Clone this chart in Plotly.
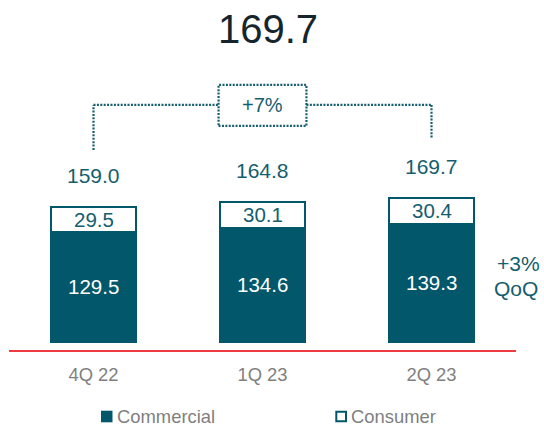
import plotly.graph_objects as go

# Loan balances by quarter (bn)
quarters = ["4Q 22", "1Q 23", "2Q 23"]
commercial = [129.5, 134.6, 139.3]
consumer = [29.5, 30.1, 30.4]
totals = [159.0, 164.8, 169.7]
headline = "169.7"
change_label = "+7%"
qoq_label = ["+3%", "QoQ"]
legend_names = ["Commercial", "Consumer"]

TEAL = "#02576a"
TEXT_TEAL = "#155e6e"
GRAY = "#7f7f7f"
RED = "#ee3b3f"
FONT = "Arial, Liberation Sans, sans-serif"

W, H = 544, 426
M_L, M_R, M_T, M_B = 9, 28, 10, 76
PLOT_W = W - M_L - M_R
PLOT_H = H - M_T - M_B


def px_x(p):
    return (p - M_L) / PLOT_W


def px_y(p):
    return (H - M_B - p) / PLOT_H


fig = go.Figure()
fig.add_trace(go.Bar(
    x=quarters, y=commercial, name=legend_names[0], width=0.5,
    marker=dict(color=TEAL, line=dict(color=TEAL, width=2)),
    showlegend=False, hoverinfo="skip",
))
fig.add_trace(go.Bar(
    x=quarters, y=consumer, name=legend_names[1], width=0.5,
    marker=dict(color="white", line=dict(color=TEAL, width=2)),
    showlegend=False, hoverinfo="skip",
))

ann = []
# segment labels
for q, c, s in zip(quarters, commercial, consumer):
    ann.append(dict(x=q, y=c / 2, text=f"{c:.1f}", showarrow=False,
                    font=dict(size=20.5, color="white", family=FONT),
                    xanchor="center", yanchor="middle"))
    ann.append(dict(x=q, y=c + s / 2, text=f"{s:.1f}", showarrow=False,
                    font=dict(size=20.5, color=TEXT_TEAL, family=FONT),
                    xanchor="center", yanchor="middle"))
# totals above bars
for q, t in zip(quarters, totals):
    ann.append(dict(x=q, y=t, text=f"{t:.1f}", showarrow=False, yshift=31.5,
                    font=dict(size=21, color=TEXT_TEAL, family=FONT),
                    xanchor="center", yanchor="middle"))

# growth bracket between first and last quarter
BR_Y = 279.5
BOX_HALF_W = 0.26
BOX_TOP, BOX_BOT = 303.1, 254.7
left_end = 226.4
right_end = 240.6
dot = dict(color=TEXT_TEAL, width=2.2, dash="2px,1.4px")
shapes = [
    dict(type="line", xref="x", yref="y", x0=0, x1=0, y0=left_end, y1=BR_Y, line=dot),
    dict(type="line", xref="x", yref="y", x0=0, x1=1 - BOX_HALF_W, y0=BR_Y, y1=BR_Y, line=dot),
    dict(type="rect", xref="x", yref="y", x0=1 - BOX_HALF_W, x1=1 + BOX_HALF_W,
         y0=BOX_BOT, y1=BOX_TOP, line=dot),
    dict(type="line", xref="x", yref="y", x0=1 + BOX_HALF_W, x1=2, y0=BR_Y, y1=BR_Y, line=dot),
    dict(type="line", xref="x", yref="y", x0=2, x1=2, y0=BR_Y, y1=right_end, line=dot),
]
ann.append(dict(x=1, y=BR_Y, text=change_label, showarrow=False,
                font=dict(size=20, color=TEXT_TEAL, family=FONT),
                xanchor="center", yanchor="middle"))

# headline figure
ann.append(dict(xref="paper", yref="paper", x=px_x(268), y=px_y(29), text=headline,
                showarrow=False, font=dict(size=40, color="#16252c", family=FONT),
                xanchor="center", yanchor="middle"))

# quarter-on-quarter note
ann.append(dict(xref="paper", yref="paper", x=px_x(518.5), y=px_y(263), text=qoq_label[0],
                showarrow=False, font=dict(size=21, color=TEXT_TEAL, family=FONT),
                xanchor="center", yanchor="middle"))
ann.append(dict(xref="paper", yref="paper", x=px_x(516), y=px_y(288), text=qoq_label[1],
                showarrow=False, font=dict(size=21, color=TEXT_TEAL, family=FONT),
                xanchor="center", yanchor="middle"))

# legend drawn as swatches + labels
LEG_Y = 416.5
shapes.append(dict(type="rect", xref="paper", yref="paper",
                   x0=px_x(101), x1=px_x(112.5), y0=px_y(LEG_Y + 5.8), y1=px_y(LEG_Y - 5.8),
                   fillcolor=TEAL, line=dict(width=0)))
shapes.append(dict(type="rect", xref="paper", yref="paper",
                   x0=px_x(336.3), x1=px_x(346), y0=px_y(LEG_Y + 4.8), y1=px_y(LEG_Y - 4.8),
                   fillcolor="white", line=dict(color=TEAL, width=2)))
ann.append(dict(xref="paper", yref="paper", x=px_x(115), y=px_y(LEG_Y), text=legend_names[0],
                showarrow=False, font=dict(size=18.4, color=GRAY, family=FONT),
                xanchor="left", yanchor="middle"))
ann.append(dict(xref="paper", yref="paper", x=px_x(349), y=px_y(LEG_Y), text=legend_names[1],
                showarrow=False, font=dict(size=18.4, color=GRAY, family=FONT),
                xanchor="left", yanchor="middle"))

PX_PER_UNIT = 0.847
y_min = -9.8
y_max = y_min + PLOT_H / PX_PER_UNIT

fig.update_layout(
    width=W, height=H,
    margin=dict(l=M_L, r=M_R, t=M_T, b=M_B, pad=0),
    barmode="stack",
    paper_bgcolor="white", plot_bgcolor="white",
    annotations=ann, shapes=shapes,
    font=dict(family=FONT),
    xaxis=dict(type="category", range=[-0.5, 2.5], showline=True, linecolor=RED,
               linewidth=1.5, ticks="", showgrid=False, zeroline=False,
               ticklabelstandoff=7,
               tickfont=dict(size=18.4, color=GRAY, family=FONT), fixedrange=True),
    yaxis=dict(range=[y_min, y_max], visible=False, showgrid=False, zeroline=False,
               fixedrange=True),
)

fig.write_html("out.html", config={"displayModeBar": False})
